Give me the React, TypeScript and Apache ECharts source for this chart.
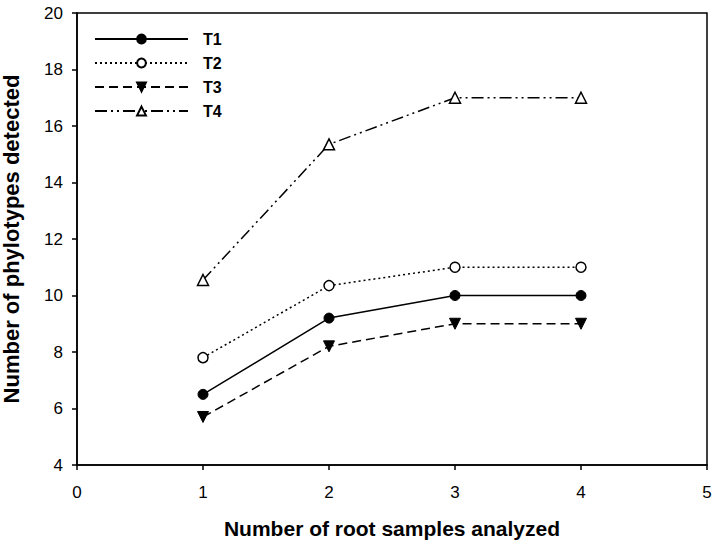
import React, { useEffect, useRef } from "react";
import * as echarts from "echarts";

const xValues = [1, 2, 3, 4];
const t1 = [6.5, 9.2, 10, 10];
const t2 = [7.8, 10.35, 11, 11];
const t3 = [5.7, 8.2, 9, 9];
const t4 = [10.55, 15.35, 17, 17];
const seriesNames = ["T1", "T2", "T3", "T4"];

export default function App() {
  const ref = useRef<HTMLDivElement>(null);
  useEffect(() => {
    if (!ref.current) return;
    const chart = echarts.init(ref.current, null, { renderer: "svg" });
    const font = "Liberation Sans, Arial, sans-serif";
    const mk = (vals: number[]) => xValues.map((x, i) => [x, vals[i]]);
    chart.setOption({
      animation: false,
      backgroundColor: "#fff",
      textStyle: { fontFamily: font },
      grid: {
        left: 77, right: 8, top: 13, bottom: 80,
        outerBoundsMode: "none",
        containLabel: false,
        show: true, borderColor: "#000", borderWidth: 1.5, backgroundColor: "transparent",
      },
      legend: {
        orient: "vertical",
        left: 89, top: 26,
        itemWidth: 93, itemHeight: 11, itemGap: 8,
        data: seriesNames,
        textStyle: { fontSize: 16, fontWeight: "bold", color: "#000", fontFamily: font, padding: [0, 0, 0, 10] },
      },
      xAxis: {
        type: "value", min: 0, max: 5, interval: 1,
        axisLine: { show: true, lineStyle: { color: "#000", width: 1.5 } },
        axisTick: { show: true, inside: false, length: 5, lineStyle: { color: "#000", width: 1.5 } },
        splitLine: { show: false },
        axisLabel: { color: "#000", fontSize: 17, margin: 19, fontFamily: font },
        name: "Number of root samples analyzed",
        nameLocation: "middle", nameGap: 53,
        nameTextStyle: { fontSize: 21, fontWeight: "bold", color: "#000", fontFamily: font },
      },
      yAxis: {
        type: "value", min: 4, max: 20, interval: 2,
        axisLine: { show: true, lineStyle: { color: "#000", width: 1.5 } },
        axisTick: { show: true, inside: false, length: 5, lineStyle: { color: "#000", width: 1.5 } },
        splitLine: { show: false },
        axisLabel: { color: "#000", fontSize: 17, margin: 14, fontFamily: font },
        name: "Number of phylotypes detected",
        nameLocation: "middle", nameGap: 55,
        nameTextStyle: { fontSize: 22, fontWeight: "bold", color: "#000", fontFamily: font },
      },
      series: [
        {
          name: "T1", type: "line", data: mk(t1),
          symbol: "circle", symbolSize: 10,
          lineStyle: { color: "#000", width: 1.5, type: "solid" },
          itemStyle: { color: "#000", borderColor: "#000", borderWidth: 1 },
        },
        {
          name: "T2", type: "line", data: mk(t2),
          symbol: "circle", symbolSize: 10,
          lineStyle: { color: "#000", width: 1.5, type: [2, 3] },
          itemStyle: { color: "#fff", borderColor: "#000", borderWidth: 1.5 },
        },
        {
          name: "T3", type: "line", data: mk(t3),
          symbol: "triangle", symbolRotate: 180, symbolSize: 11,
          lineStyle: { color: "#000", width: 1.5, type: [9, 5] },
          itemStyle: { color: "#000", borderColor: "#000", borderWidth: 1 },
        },
        {
          name: "T4", type: "line", data: mk(t4),
          symbol: "triangle", symbolSize: 11,
          lineStyle: { color: "#000", width: 1.5, type: [12, 4, 2, 4, 2, 4] },
          itemStyle: { color: "#fff", borderColor: "#000", borderWidth: 1.5 },
        },
      ],
    });
    return () => chart.dispose();
  }, []);
  return <div ref={ref} style={{ width: 715, height: 545, position: "absolute", left: 0, top: 0 }} />;
}
